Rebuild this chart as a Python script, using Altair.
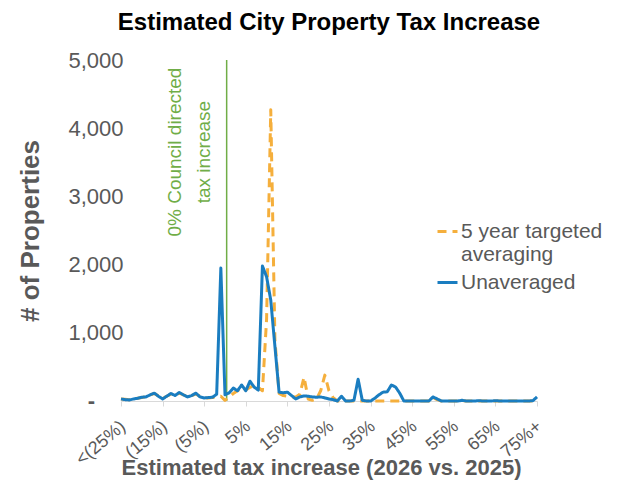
import altair as alt
import pandas as pd

# x categories: estimated tax increase in percent (1% buckets)
pct = list(range(-25, 76))

unaveraged = [
    30, 20, 15, 30, 40, 55, 60, 90, 115, 70,      # -25..-16
    30, 70, 110, 80, 125, 90, 60, 80, 115, 60,    # -15..-6
    45, 50, 55, 100, 1950, 90, 120, 190, 150, 235,  # -5..4
    150, 290, 205, 160, 1980, 1820, 1480, 800, 130, 120,  # 5..14
    130, 80, 30, 60, 75, 70, 60, 55, 60, 45,      # 15..24
    30, 20, 0, 70, 0, 0, 10, 320, 10, 0,          # 25..34
    0, 40, 90, 130, 135, 235, 205, 115, 0, 0,     # 35..44
    0, 0, 0, 0, 0, 60, 30, 0, 0, 0,               # 45..54
    0, 0, 10, 0, 0, 0, 5, 0, 0, 0,                # 55..64
    5, 0, 0, 0, 0, 0, 0, 0, 0, 5,                 # 65..74
    60,                                           # 75
]

averaged = [
    30, 25, 20, 30, 40, 50, 60, 90, 110, 75,      # -25..-16
    40, 70, 100, 85, 115, 90, 65, 80, 100, 70,    # -15..-6
    50, 45, 50, 60, 70, 10, 60, 110, 150, 190,    # -5..4
    160, 200, 230, 200, 150, 1200, 4270, 900, 110, 80,  # 5..14
    70, 60, 60, 100, 350, 30, 10, 30, 150, 380,   # 15..24
    150, 50, 0, 0, 0, 0, 0, 0, 0, 0,              # 25..34
    0, 0, 0, 0, 0, 0, 0, 0, 0, 0,                 # 35..44
    0, 0, 0, 0, 0, 50, 20, 0, 0, 0,               # 45..54
    0, 0, 5, 0, 0, 0, 0, 0, 0, 0,                 # 55..64
    0, 0, 0, 0, 0, 0, 0, 0, 0, 0,                 # 65..74
    30,                                           # 75
]

series_names = ["5 year targeted averaging", "Unaveraged"]
series_colors = ["#F5AF3C", "#1A7DC0"]
x_tick_values = [-25, -15, -5, 5, 15, 25, 35, 45, 55, 65, 75]
y_tick_values = [0, 1000, 2000, 3000, 4000, 5000]
zero_label = "-"   # accounting-style zero on the y axis

council_x = 0.4
annot_lines = ["0% Council directed", "tax increase"]
annot_x = [-12.0, -5.0]
annot_y = [3650, 3650]

FONT = "Liberation Sans"
GRAY = "#595959"
GREEN = "#70AD47"

df = pd.concat([
    pd.DataFrame({"pct": pct, "count": averaged, "series": series_names[0]}),
    pd.DataFrame({"pct": pct, "count": unaveraged, "series": series_names[1]}),
])
df["order"] = df["series"].map({series_names[0]: 1, series_names[1]: 0})

x_label_expr = (
    "datum.value == -25 ? '<(25%)' : datum.value == 75 ? '75%+' : "
    "datum.value < 0 ? '(' + abs(datum.value) + '%)' : datum.value + '%'"
)
y_label_expr = "datum.value == 0 ? '' : format(datum.value, ',')"

x_enc = alt.X(
    "pct:Q",
    scale=alt.Scale(domain=[-25, 75], nice=False, zero=False),
    axis=alt.Axis(
        values=x_tick_values,
        labelExpr=x_label_expr,
        labelAngle=-40,
        labelAlign="right",
        labelBaseline="middle",
        labelPadding=18,
        labelOffset=2,
        labelOverlap=False,
        labelFlush=False,
        labelFontSize=18,
        labelColor=GRAY,
        labelFont=FONT,
        grid=False,
        domainColor="#D9D9D9",
        tickColor="#D9D9D9",
        tickSize=5,
        title="Estimated tax increase (2026 vs. 2025)",
        titleFontSize=22,
        titleFont=FONT,
        titleFontWeight="bold",
        titleColor=GRAY,
        titleX=200,
        titleY=56,
        titleBaseline="top",
    ),
)

y_enc = alt.Y(
    "count:Q",
    scale=alt.Scale(domain=[0, 5000], nice=False),
    axis=alt.Axis(
        values=y_tick_values,
        labelExpr=y_label_expr,
        labelFontSize=22,
        labelColor=GRAY,
        labelFont=FONT,
        labelPadding=-2,
        labelFlush=False,
        labelOverlap=False,
        ticks=False,
        domain=False,
        grid=False,
        title="# of Properties",
        titleFontSize=26,
        titleFont=FONT,
        titleFontWeight="bold",
        titleColor=GRAY,
        titleX=-91,
        titleBaseline="middle",
    ),
)

lines = alt.Chart(df).mark_line(strokeWidth=3, strokeJoin="round").encode(
    x=x_enc,
    y=y_enc,
    color=alt.Color(
        "series:N",
        scale=alt.Scale(domain=series_names, range=series_colors),
        legend=alt.Legend(
            orient="none",
            legendX=315,
            legendY=160,
            title=None,
            labelFontSize=21,
            labelFont=FONT,
            labelColor=GRAY,
            labelLimit=300,
            labelExpr="datum.label == '5 year targeted averaging' ? ['5 year targeted', 'averaging'] : datum.label",
            symbolType="stroke",
            symbolSize=400,
            symbolStrokeWidth=3,
            rowPadding=6,
            labelOffset=2,
        ),
    ),
    strokeDash=alt.StrokeDash(
        "series:N",
        scale=alt.Scale(domain=series_names, range=[[9, 6], [1, 0]]),
        legend=None,
    ),
    order=alt.Order("order:Q"),
)

rule_df = pd.DataFrame({"x": [council_x]})
rule = alt.Chart(rule_df).mark_rule(color=GREEN, strokeWidth=1.5).encode(
    x=alt.X("x:Q"),
    y=alt.value(0),
    y2=alt.value(341),
)

annot_df = pd.DataFrame({"text": annot_lines, "x": annot_x, "y": annot_y})
annot = alt.Chart(annot_df).mark_text(
    angle=270, align="center", baseline="middle", fontSize=19, font=FONT, color=GREEN
).encode(x="x:Q", y="y:Q", text="text:N")

zero_df = pd.DataFrame({"text": [zero_label], "x": [x_tick_values[0]], "y": [y_tick_values[0]]})
zero_mark = alt.Chart(zero_df).mark_text(
    align="right", baseline="middle", dx=-26, fontSize=22, fontWeight="bold",
    font=FONT, color=GRAY,
).encode(x="x:Q", y="y:Q", text="text:N")

chart = alt.layer(rule, lines, annot, zero_mark).properties(
    width=416,
    height=341,
    title=alt.TitleParams(
        "Estimated City Property Tax Increase",
        fontSize=24,
        font=FONT,
        fontWeight="bold",
        color="black",
        anchor="middle",
        offset=14,
    ),
    autosize=alt.AutoSizeParams(type="none"),
    padding={"left": 113, "top": 52, "right": 66, "bottom": 79},
).configure_view(stroke=None)

chart.save("out.html", embed_options={"renderer": "svg", "actions": False})
